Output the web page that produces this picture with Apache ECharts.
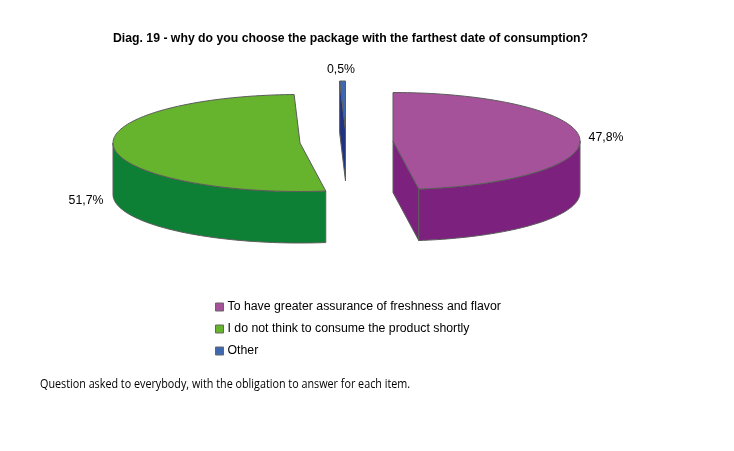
<!DOCTYPE html>
<html>
<head>
<meta charset="utf-8">
<style>html,body{margin:0;padding:0;background:#fff}#c{width:734px;height:451px}</style>
<script src="https://cdn.jsdelivr.net/npm/echarts@6/dist/echarts.min.js"></script>
</head>
<body>
<div id="c"></div>
<script>
const categories = ['To have greater assurance of freshness and flavor', 'I do not think to consume the product shortly', 'Other'];
const values = [47.8, 51.7, 0.5];
const titleText = 'Diag. 19 - why do you choose the package with the farthest date of consumption?';
const noteText = 'Question asked to everybody, with the obligation to answer for each item.';

const topColors = ['#A5529A', '#66B32E', '#3F68B0'];
const sideColors = ['#7D217E', '#0E8035', '#1F3480'];
const centers = [[393, 141], [300, 143], [345.5, 129.5]];
const labelPos = [[606, 138], [86, 201], [341, 69.5]];
const RX = 187, RY = 48.5, DEPTH = 51.5;
const EDGE = '#5c5c5c';

const total = values.reduce((a, b) => a + b, 0);
const pt = (c, deg, dy) => [c[0] + RX * Math.sin(deg * Math.PI / 180), c[1] + dy - RY * Math.cos(deg * Math.PI / 180)];
function arc(c, a0, a1, dy) {
  const out = [], n = Math.max(2, Math.ceil(Math.abs(a1 - a0) / 1.5));
  for (let i = 0; i <= n; i++) out.push(pt(c, a0 + (a1 - a0) * i / n, dy));
  return out;
}
function poly(points, fill) {
  return { type: 'polygon', shape: { points }, silent: true,
    style: { fill, stroke: EDGE, lineWidth: 1, lineJoin: 'round' } };
}
function cutFace(c, deg, fill) {
  return poly([[c[0], c[1]], pt(c, deg, 0), pt(c, deg, DEPTH), [c[0], c[1] + DEPTH]], fill);
}
function sliceRenderer(idx) {
  return function (params, api) {
    const v = api.value(0);
    const before = values.slice(0, idx).reduce((a, b) => a + b, 0);
    const a0 = before / total * 360, a1 = (before + v) / total * 360;
    const c = centers[idx], kids = [];
    // cut faces that turn towards the viewer
    if (a1 > 90 && a1 < 180) kids.push(cutFace(c, a1, sideColors[idx]));
    if (a0 > 270 && a0 < 360) kids.push(cutFace(c, a0, sideColors[idx]));
    // outer wall (front half only)
    const w0 = Math.max(a0, 90), w1 = Math.min(a1, 270);
    if (w1 > w0) kids.push(poly(arc(c, w0, w1, 0).concat(arc(c, w1, w0, DEPTH)), sideColors[idx]));
    // top face
    kids.push(poly([[c[0], c[1]]].concat(arc(c, a0, a1, 0)), topColors[idx]));
    // value label
    kids.push({ type: 'text', silent: true, x: labelPos[idx][0], y: labelPos[idx][1],
      style: { text: v.toFixed(1).replace('.', ',') + '%', fill: '#000', font: '12.3px "Liberation Sans"', align: 'center', verticalAlign: 'middle' } });
    return { type: 'group', children: kids };
  };
}
const chart = echarts.init(document.getElementById('c'), null, { renderer: 'canvas' });
chart.setOption({
  animation: false,
  backgroundColor: '#fff',
  title: { text: titleText, left: 108, top: 28,
    textStyle: { fontFamily: 'Liberation Sans', fontSize: 12.25, fontWeight: 'bold', color: '#000' } },
  legend: { orient: 'vertical', left: 210, top: 296, itemWidth: 8, itemHeight: 8, itemGap: 10, icon: 'rect', selectedMode: false,
    data: categories,
    itemStyle: { borderColor: '#666', borderWidth: 1 },
    textStyle: { fontFamily: 'Liberation Sans', fontSize: 12.3, color: '#000', padding: [0, 0, 0, -1] } },
  graphic: [{ type: 'text', x: 40, y: 385, scaleX: 0.898, silent: true,
    style: { text: noteText, font: '12px "Open Sans"', fill: '#000', align: 'left', verticalAlign: 'middle' } }],
  series: categories.map((name, i) => ({
    type: 'custom', name, coordinateSystem: 'none', silent: true,
    itemStyle: { color: topColors[i] },
    renderItem: sliceRenderer(i),
    data: [[values[i]]]
  }))
});
</script>
</body>
</html>
